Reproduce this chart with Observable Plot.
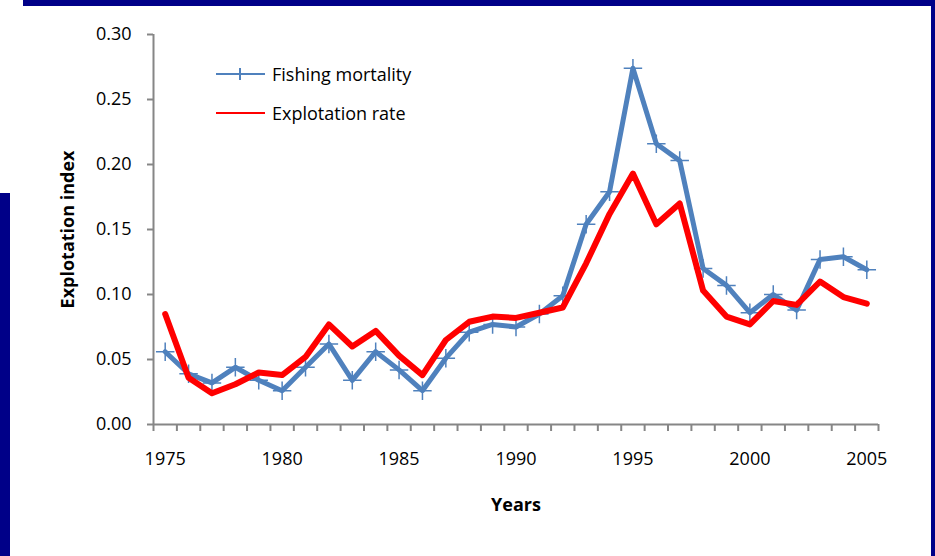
<!DOCTYPE html>
<html><head><meta charset="utf-8">
<script src="https://cdn.jsdelivr.net/npm/d3@7"></script>
<script src="https://cdn.jsdelivr.net/npm/@observablehq/plot@0.6"></script>
<style>
html,body{margin:0;padding:0;background:#fff;}
#wrap{position:relative;width:935px;height:556px;overflow:hidden;font-family:"Open Sans",sans-serif;background:#fff;}
#wrap svg{position:absolute;left:0;top:0;}
.bar{position:absolute;background:#000088;z-index:5;}
.leg{position:absolute;left:216px;height:24px;display:flex;align-items:center;font-size:18px;color:#000;white-space:nowrap;}
.leg .sw{position:relative;width:49px;height:2px;margin-right:7px;}
.leg .mk{position:absolute;left:23px;top:-5px;width:2px;height:12px;}
</style>
</head><body>
<div id="wrap">
  <div class="bar" style="left:23px;top:0;width:912px;height:6px"></div>
  <div class="bar" style="left:0;top:193px;width:10px;height:363px"></div>
  <div class="bar" style="left:931px;top:0;width:4px;height:556px"></div>
  <div class="leg" style="top:62px"><span class="sw" style="background:#4F81BD"><span class="mk" style="background:#4F81BD"></span></span><span id="l1"></span></div>
  <div class="leg" style="top:101px"><span class="sw" style="background:#FF0000"></span><span id="l2"></span></div>
</div>
<script>
const years = [1975,1976,1977,1978,1979,1980,1981,1982,1983,1984,1985,1986,1987,1988,1989,1990,1991,1992,1993,1994,1995,1996,1997,1998,1999,2000,2001,2002,2003,2004,2005];
const fishingMortality = [0.056,0.039,0.032,0.044,0.034,0.026,0.044,0.062,0.034,0.056,0.042,0.026,0.051,0.071,0.077,0.075,0.085,0.099,0.154,0.179,0.274,0.216,0.203,0.120,0.107,0.086,0.100,0.088,0.127,0.129,0.119];
const explotationRate = [0.085,0.036,0.024,0.031,0.040,0.038,0.052,0.077,0.060,0.072,0.053,0.038,0.065,0.079,0.083,0.082,0.086,0.090,0.124,0.162,0.193,0.154,0.170,0.103,0.083,0.077,0.095,0.092,0.110,0.098,0.093];
const seriesNames = ["Fishing mortality","Explotation rate"];
const xTickLabels = [1975,1980,1985,1990,1995,2000,2005];
const yTickLabels = [0,0.05,0.10,0.15,0.20,0.25,0.30];
const xTitle = "Years";
const yTitle = "Explotation index";

document.getElementById("l1").textContent = seriesNames[0];
document.getElementById("l2").textContent = seriesNames[1];

const rows = years.map((year,i)=>({year, fishing:fishingMortality[i], rate:explotationRate[i]}));
const x0 = years[0]-0.5, x1 = years[years.length-1]+0.5;
const catEdges = years.map(y=>y-0.5).concat([x1]);
const axisGray = "#868686";

const chart = Plot.plot({
  width:935, height:556,
  marginTop:34, marginBottom:132, marginLeft:153, marginRight:57,
  x:{domain:[x0,x1]},
  y:{domain:[0,0.3]},
  style:{fontFamily:"'Open Sans', sans-serif", fontSize:"18px", color:"#000", background:"transparent", overflow:"visible"},
  marks:[
    Plot.ruleX([x0], {stroke:axisGray, strokeWidth:2}),
    Plot.ruleY([0], {stroke:axisGray, strokeWidth:2}),
    Plot.axisX({ticks:catEdges, tickSize:7, tickFormat:()=>"", stroke:axisGray, strokeWidth:2, label:null}),
    Plot.axisX({ticks:xTickLabels, tickSize:0, tickPadding:28, tickFormat:d=>String(d), label:null, fontSize:18}),
    Plot.axisX({ticks:[], label:xTitle, labelAnchor:"center", labelArrow:"none", labelOffset:86, fontWeight:"bold", fontSize:18}),
    Plot.axisY({ticks:yTickLabels, tickSize:6, tickPadding:16, tickFormat:d3.format(".2f"), stroke:axisGray, strokeWidth:2, label:null, fontSize:18}),
    Plot.axisY({ticks:[], label:yTitle, labelAnchor:"center", labelArrow:"none", labelOffset:92, fontWeight:"bold", fontSize:18}),
    Plot.line(rows, {x:"year", y:"fishing", stroke:"#4F81BD", strokeWidth:5, strokeLinejoin:"round", strokeLinecap:"round"}),
    Plot.dot(rows, {x:"year", y:"fishing", symbol:"plus", r:6, stroke:"#4F81BD", strokeWidth:1.5}),
    Plot.line(rows, {x:"year", y:"rate", stroke:"#FF0000", strokeWidth:6, strokeLinejoin:"round", strokeLinecap:"round"})
  ]
});
document.getElementById("wrap").appendChild(chart);
</script>
</body></html>
